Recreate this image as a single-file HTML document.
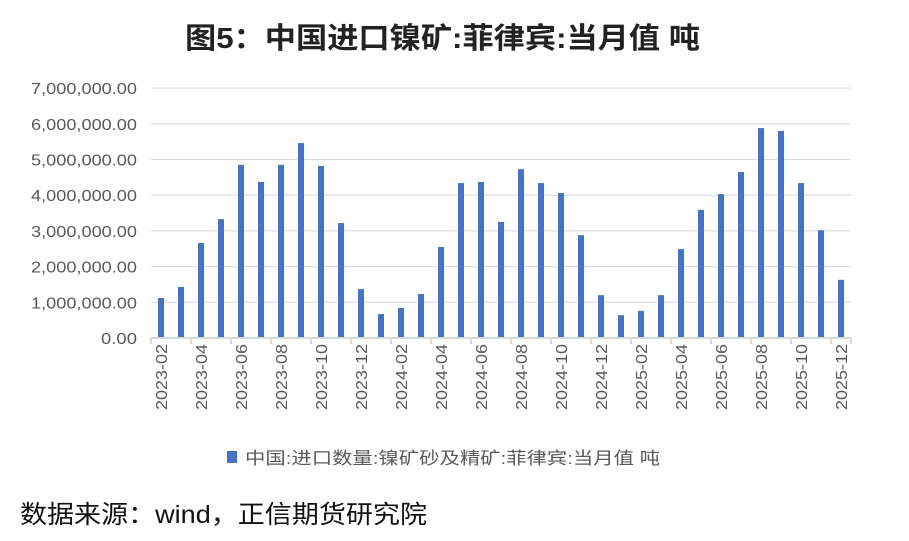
<!DOCTYPE html>
<html><head><meta charset="utf-8"><style>
body{margin:0;background:#fff;}
svg text{font-family:"Liberation Sans","Noto Sans CJK SC",sans-serif;}
</style></head><body>
<svg width="909" height="536" xmlns="http://www.w3.org/2000/svg">
<rect width="909" height="536" fill="#fff"/>
<text x="185" y="48" font-size="29" font-weight="bold" fill="#222" textLength="515" lengthAdjust="spacingAndGlyphs">图5：中国进口镍矿:菲律宾:当月值 吨</text>
<g id="grid" stroke="#d9d9d9" stroke-width="1"></g>
<g id="ylab" font-size="16" fill="#595959" text-anchor="end"></g>
<g id="bars" fill="#4472c4"></g>
<g id="xlab" font-size="16" fill="#595959"></g>
<line x1="151" y1="338" x2="851" y2="338" stroke="#d9d9d9" stroke-width="2"/>
<g id="ticks" stroke="#d9d9d9" stroke-width="2"></g>
<rect x="227" y="451" width="10" height="12" fill="#4472c4"/>
<text x="245" y="464" font-size="17" fill="#595959" textLength="415" lengthAdjust="spacingAndGlyphs">中国:进口数量:镍矿砂及精矿:菲律宾:当月值 吨</text>
<text x="20" y="523" font-size="25" fill="#111" textLength="407" lengthAdjust="spacingAndGlyphs">数据来源：wind，正信期货研究院</text>
</svg>
<script>
var ns="http://www.w3.org/2000/svg";
function el(t,a,p,txt){var e=document.createElementNS(ns,t);for(var k in a)e.setAttribute(k,a[k]);if(txt)e.textContent=txt;document.getElementById(p).appendChild(e);}
var y0=338,s=35.7;
for(var i=0;i<=7;i++){var y=y0-i*s;if(i>0)el("line",{x1:151,x2:851,y1:y,y2:y},"grid");
el("text",i?{x:137,y:y+6,textLength:106,lengthAdjust:"spacingAndGlyphs"}:{x:137,y:y+6,textLength:36,lengthAdjust:"spacingAndGlyphs"},"ylab",(i?i+",000,000.00":"0.00"));}
var v=[1.12,1.43,2.66,3.33,4.85,4.37,4.85,5.46,4.82,3.22,1.37,0.67,0.84,1.23,2.55,4.34,4.37,3.25,4.73,4.34,4.06,2.88,1.2,0.64,0.76,1.2,2.49,3.59,4.03,4.65,5.88,5.8,4.34,3.02,1.63];
for(var i=0;i<v.length;i++){var cx=161+i*20;el("rect",{x:cx-3,y:y0-v[i]*s,width:6,height:v[i]*s},"bars");
var m=i+2,yr=2023;while(m>12){m-=12;yr++;}
if(i%2==0){el("text",{x:0,y:0,transform:"translate("+(cx+6)+",344) rotate(-90)","text-anchor":"end",textLength:66,lengthAdjust:"spacingAndGlyphs"},"xlab",yr+"-"+(m<10?"0"+m:m));
el("line",{x1:151+i*20,x2:151+i*20,y1:338,y2:344},"ticks");}}
el("line",{x1:851,x2:851,y1:338,y2:344},"ticks");
</script>
</body></html>
